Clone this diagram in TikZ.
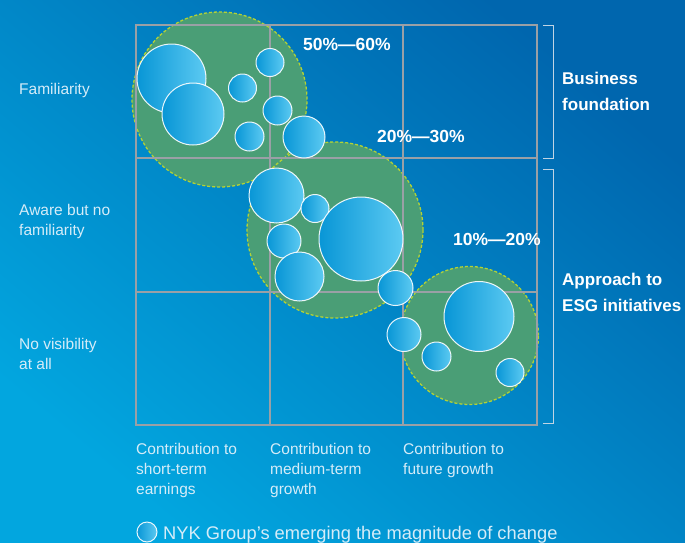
\documentclass[tikz,border=0pt]{standalone}
\usepackage{fontspec}
\setmainfont{Liberation Sans}
\definecolor{bgdark}{HTML}{0066AE}
\definecolor{bglight}{HTML}{02A6DF}
\definecolor{gridgray}{HTML}{9AA0A6}
\definecolor{zonegreen}{HTML}{4A9E76}
\definecolor{zoneedge}{HTML}{B2D236}
\definecolor{bubL}{HTML}{0896D6}
\definecolor{bubR}{HTML}{5CCAF2}
\definecolor{lighttext}{HTML}{D5ECF8}
\definecolor{brkcol}{HTML}{C0D4E4}
\begin{document}
\begin{tikzpicture}[x=1pt,y=-1pt,
  grid/.style={draw=gridgray, line width=1.3pt},
  zone/.style={circle, inner sep=0pt, fill=zonegreen, draw=zoneedge, line width=1.3pt, dash pattern=on 3pt off 2pt},
  bubble/.style={circle, inner sep=0pt, left color=bubL, right color=bubR, draw=white, draw opacity=0.9, line width=1pt},
  lbl/.style={inner sep=0pt, anchor=north west, align=left, text=lighttext, font=\fontsize{15.5}{20}\selectfont},
  pct/.style={inner sep=0pt, anchor=north west, text=white, font=\fontsize{17.5}{21}\selectfont\bfseries},
  side/.style={inner sep=0pt, anchor=north west, align=left, text=white, font=\fontsize{17}{26}\selectfont\bfseries},
  brk/.style={draw=brkcol, line width=1pt}]
\useasboundingbox (0,0) rectangle (685,542);
\shade[top color=bgdark, bottom color=bglight, shading angle=-40] (0,0) rectangle (685,542);

% zones
\node[zone, minimum size=175] (z1) at (219.5,99.5) {};
\node[zone, minimum size=176] (z2) at (335,230) {};
\node[zone, minimum size=138] (z3) at (469.5,335.5) {};

% grid
\draw[grid] (136,25) rectangle (537,425);
\draw[grid] (270,25) -- (270,425);
\draw[grid] (403,25) -- (403,425);
\draw[grid] (136,158) -- (537,158);
\draw[grid] (136,292) -- (537,292);

% bubbles
\node[bubble, minimum size=69] (b1) at (171.5,78.5) {};
\node[bubble, minimum size=62] (b2) at (193,114) {};
\node[bubble, minimum size=28] (b3) at (270,62.5) {};
\node[bubble, minimum size=28] (b4) at (242.5,88) {};
\node[bubble, minimum size=29] (b5) at (277.5,110.5) {};
\node[bubble, minimum size=29] (b6) at (249.5,136.5) {};
\node[bubble, minimum size=42] (b7) at (304,137) {};
\node[bubble, minimum size=55] (b8) at (276.5,195.5) {};
\node[bubble, minimum size=28] (b9) at (315,208.5) {};
\node[bubble, minimum size=84] (b10) at (361,239) {};
\node[bubble, minimum size=34] (b11) at (284,241) {};
\node[bubble, minimum size=49] (b12) at (299.5,276.5) {};
\node[bubble, minimum size=35] (b13) at (395.5,288) {};
\node[bubble, minimum size=70] (b14) at (479,316.5) {};
\node[bubble, minimum size=34] (b15) at (404,334.5) {};
\node[bubble, minimum size=29] (b16) at (436.5,356.5) {};
\node[bubble, minimum size=28] (b17) at (510,372.5) {};

% percentages
\node[pct] (p1) at (303,38) {50\%—60\%};
\node[pct] (p2) at (377,130) {20\%—30\%};
\node[pct] (p3) at (453,233) {10\%—20\%};

% left labels
\node[lbl] (l1) at (19,83) {Familiarity};
\node[lbl] (l2) at (19,204) {Aware but no\\familiarity};
\node[lbl] (l3) at (19,338) {No visibility\\at all};

% bottom labels
\node[lbl] (c1) at (136,443) {Contribution to\\short-term\\earnings};
\node[lbl] (c2) at (270,443) {Contribution to\\medium-term\\growth};
\node[lbl] (c3) at (403,443) {Contribution to\\future growth};

% brackets and side labels
\draw[brk] (543,25) -- (553,25) -- (553,158) -- (543,158);
\draw[brk] (543,169) -- (553,169) -- (553,423) -- (543,423);
\node[side] (s1) at (562,72) {Business\\foundation};
\node[side] (s2) at (562,273) {Approach to\\ESG initiatives};

% legend
\node[bubble, minimum size=20] (lg) at (147,532) {};
\node[anchor=base west, inner sep=0pt, text=lighttext, font=\fontsize{18.3}{22}\selectfont] (lgt) at (163,539) {NYK Group’s emerging the magnitude of change};
\end{tikzpicture}
\end{document}
